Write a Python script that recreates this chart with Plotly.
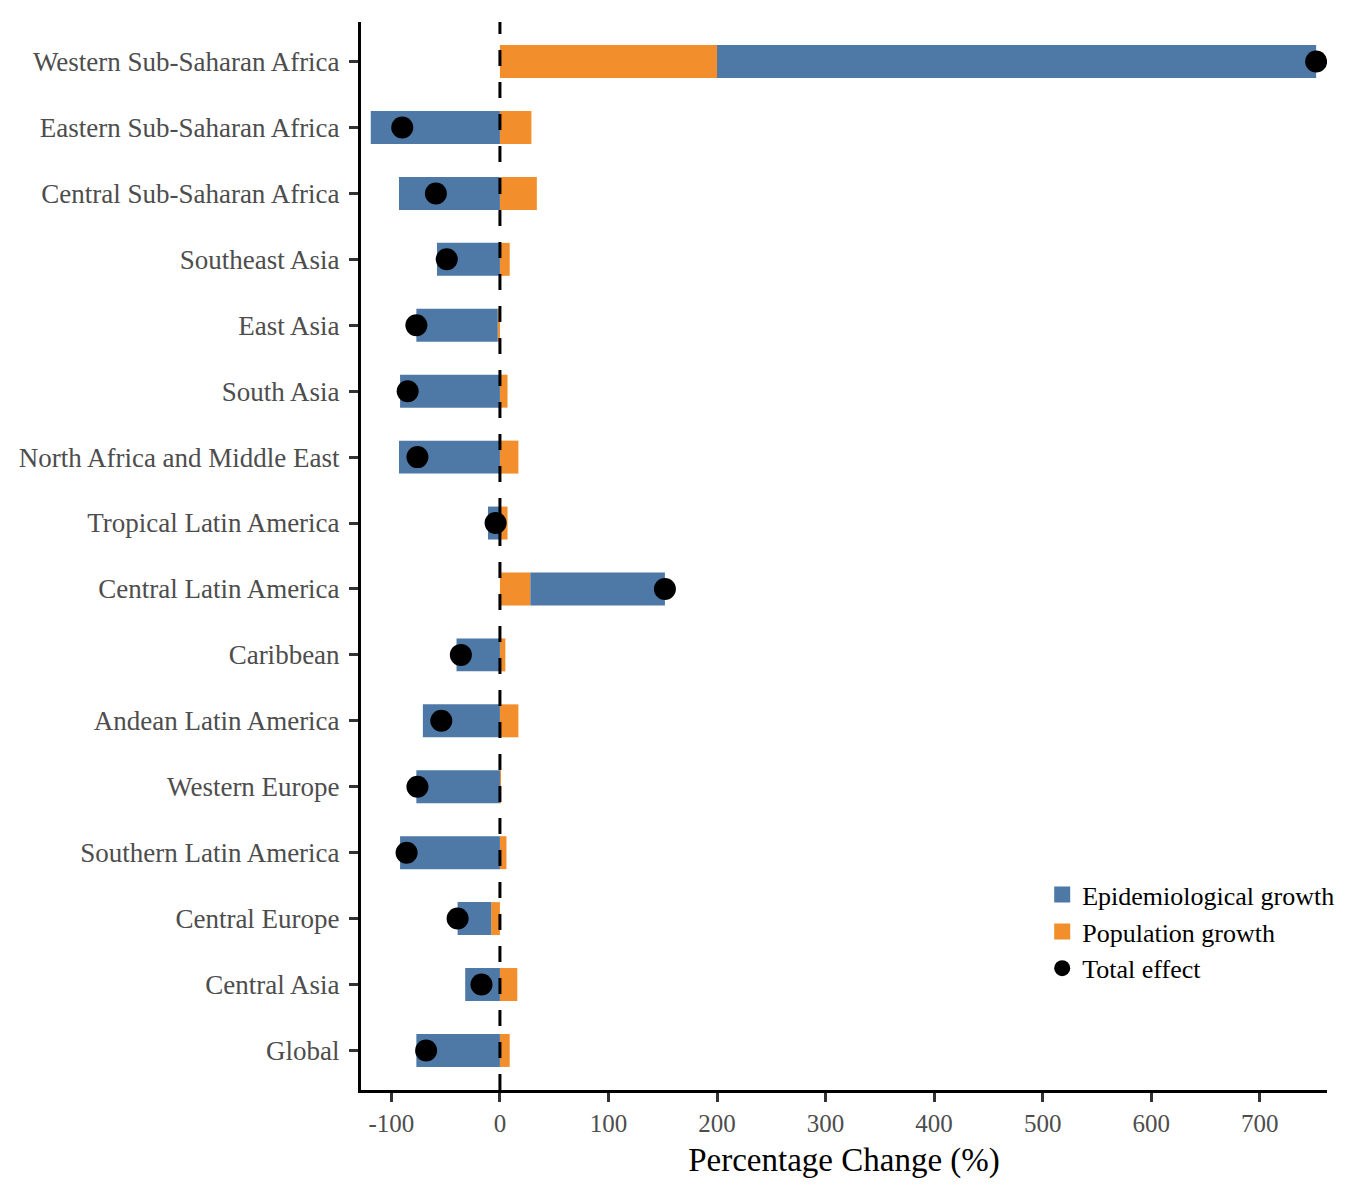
import plotly.graph_objects as go

regions = [
    "Western Sub-Saharan Africa", "Eastern Sub-Saharan Africa", "Central Sub-Saharan Africa",
    "Southeast Asia", "East Asia", "South Asia", "North Africa and Middle East",
    "Tropical Latin America", "Central Latin America", "Caribbean", "Andean Latin America",
    "Western Europe", "Southern Latin America", "Central Europe", "Central Asia", "Global",
]
population_growth = [200, 29, 34, 9, -2, 7, 17, 7, 28, 5, 17, 1, 6, -8, 16, 9]
epidemiological_growth = [552, -119, -93, -58, -75, -92, -93, -11, 124, -40, -71, -77, -92, -31, -32, -77]
total_effect = [752, -90, -59, -49, -77, -85, -76, -4, 152, -36, -54, -76, -86, -39, -17, -68]
x_ticks = [-100, 0, 100, 200, 300, 400, 500, 600, 700]

BLUE = "#4E79A7"
ORANGE = "#F28E2B"
FONT = "Liberation Serif, Times New Roman, serif"

fig = go.Figure()
fig.add_trace(go.Bar(
    x=population_growth, y=regions, orientation="h", name="Population growth",
    marker=dict(color=ORANGE, line=dict(width=0)), width=0.5, showlegend=False,
))
fig.add_trace(go.Bar(
    x=epidemiological_growth, y=regions, orientation="h", name="Epidemiological growth",
    marker=dict(color=BLUE, line=dict(width=0)), width=0.5, showlegend=False,
))
fig.add_trace(go.Scatter(
    x=total_effect, y=regions, mode="markers", name="Total effect",
    marker=dict(color="black", size=22), showlegend=False,
))
# legend proxies
fig.add_trace(go.Scatter(x=[None], y=[None], mode="markers", name="Epidemiological growth",
                         marker=dict(symbol="square", color=BLUE, size=30), legendrank=1))
fig.add_trace(go.Scatter(x=[None], y=[None], mode="markers", name="Population growth",
                         marker=dict(symbol="square", color=ORANGE, size=30), legendrank=2))
fig.add_trace(go.Scatter(x=[None], y=[None], mode="markers", name="Total effect",
                         marker=dict(symbol="circle", color="black", size=22), legendrank=3))

fig.add_vline(x=0, line=dict(color="black", width=3, dash="16px,16px"), layer="above")

fig.update_layout(
    width=1350, height=1200,
    margin=dict(l=361, r=23, t=22, b=110, autoexpand=False),
    barmode="relative",
    plot_bgcolor="white", paper_bgcolor="white",
    font=dict(family=FONT, size=25, color="#4D4D4D"),
    legend=dict(xref="container", yref="container", x=0.772, y=0.274,
                xanchor="left", yanchor="top",
                font=dict(family=FONT, size=26, color="black"),
                itemsizing="trace", bgcolor="rgba(0,0,0,0)", tracegroupgap=0),
    xaxis=dict(
        range=[-128, 762], tickvals=x_ticks, ticktext=[str(v) for v in x_ticks],
        showgrid=False, zeroline=False, showline=True, linecolor="black", linewidth=3,
        ticks="outside", ticklen=9, tickwidth=3, tickcolor="#333333",
        tickfont=dict(family=FONT, size=25, color="#4D4D4D"),
        title=dict(text="Percentage Change (%)", font=dict(family=FONT, size=33, color="black"), standoff=12),
    ),
    yaxis=dict(
        type="category", categoryorder="array", categoryarray=regions,
        range=[15.6, -0.6],
        showgrid=False, zeroline=False, showline=True, linecolor="black", linewidth=3,
        ticks="outside", ticklen=9, tickwidth=3, tickcolor="#333333",
        ticklabelstandoff=4,
        tickfont=dict(family=FONT, size=27, color="#4D4D4D"),
    ),
)

fig.write_html("out.html")
